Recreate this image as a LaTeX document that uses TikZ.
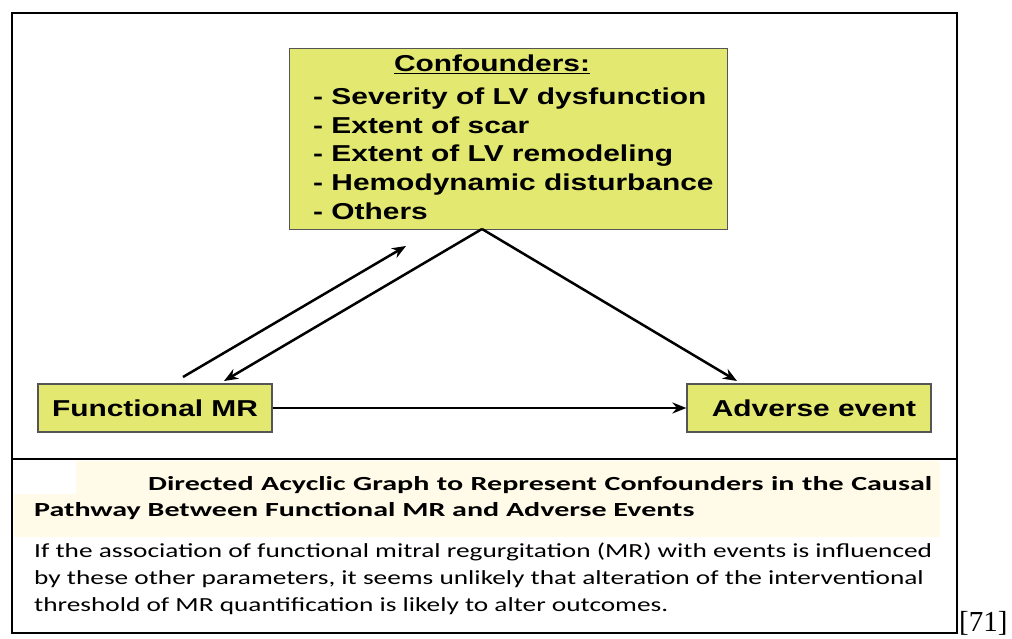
\documentclass[tikz,border=0pt]{standalone}
\usepackage{fontspec}
\setmainfont{Liberation Serif}
\newfontfamily\boxfont[FakeStretch=1.3]{Liberation Sans}
\newfontfamily\capfont[FakeStretch=1.365]{Carlito}
\newfontfamily\captitlefont[FakeStretch=1.5]{Carlito}
\usetikzlibrary{arrows.meta}
\definecolor{boxyellow}{RGB}{227,232,112}
\definecolor{boxedge}{RGB}{85,85,85}
\definecolor{capband}{RGB}{255,251,232}
\begin{document}
\begin{tikzpicture}[x=1pt,y=-1pt,
  ybox/.style={draw=boxedge, line width=1.2pt, fill=boxyellow, inner sep=0pt},
  btxt/.style={font=\boxfont\bfseries\fontsize{23}{28}\selectfont, inner sep=0pt},
  ctxt/.style={font=\capfont\fontsize{20}{27}\selectfont, inner sep=0pt, align=left},
  ctitle/.style={font=\captitlefont\bfseries\fontsize{20}{27}\selectfont, inner sep=0pt},
  arr/.style={line width=2.5pt, -{Stealth[length=14pt,width=11pt]}}]
\useasboundingbox (0,0) rectangle (1012,639);
% frame
\draw[line width=2pt] (12,13) rectangle (957,633);
\fill[capband] (14,461) rectangle (940,537);
\fill[white] (14,461) rectangle (76,494);
\draw[line width=2pt] (12,459) -- (957,459);
% boxes
\node[ybox, minimum width=438pt, minimum height=181pt, anchor=north west] (conf) at (289,48) {};
\node[btxt, anchor=base] (ct) at (492,72) {\underline{Confounders:}};
\node[btxt, anchor=base west] (l1) at (313,105) {- Severity of LV dysfunction};
\node[btxt, anchor=base west] (l2) at (313,134) {- Extent of scar};
\node[btxt, anchor=base west] (l3) at (313,162) {- Extent of LV remodeling};
\node[btxt, anchor=base west] (l4) at (313,191) {- Hemodynamic disturbance};
\node[btxt, anchor=base west] (l5) at (313,219) {- Others};
\node[ybox, btxt, minimum width=234pt, minimum height=48pt] (fmr) at (155,408) {Functional MR};
\node[ybox, btxt, minimum width=244pt, minimum height=48pt] (adv) at (809,408) {\hspace*{10pt}Adverse event};
% connector end points
\coordinate (cb) at (482,229);
\coordinate (fa) at (183,377);
\coordinate (ca) at (406,246);
\coordinate (ft) at (224,381);
\coordinate (at) at (737,381);
\draw[arr] (fa) -- (ca);
\draw[arr] (cb) -- (ft);
\draw[arr] (cb) -- (at);
\draw[arr] (fmr.east) -- (adv.west);
% caption
\node[ctitle, anchor=base west] (t1) at (148,490) {\makebox[784pt][s]{Directed Acyclic Graph to Represent Confounders in the Causal}};
\node[ctitle, anchor=base west] (t2) at (34,516) {Pathway Between Functional MR and Adverse Events};
\node[ctxt, anchor=base west] (b1) at (34,557) {If the association of functional mitral regurgitation (MR) with events is influenced};
\node[ctxt, anchor=base west] (b2) at (34,584) {by these other parameters, it seems unlikely that alteration of the interventional};
\node[ctxt, anchor=base west] (b3) at (34,611) {threshold of MR quantification is likely to alter outcomes.};
\node[font=\fontsize{29}{32}\selectfont, inner sep=0pt, anchor=base west] (ref) at (959,631) {[71]};
\end{tikzpicture}
\end{document}
